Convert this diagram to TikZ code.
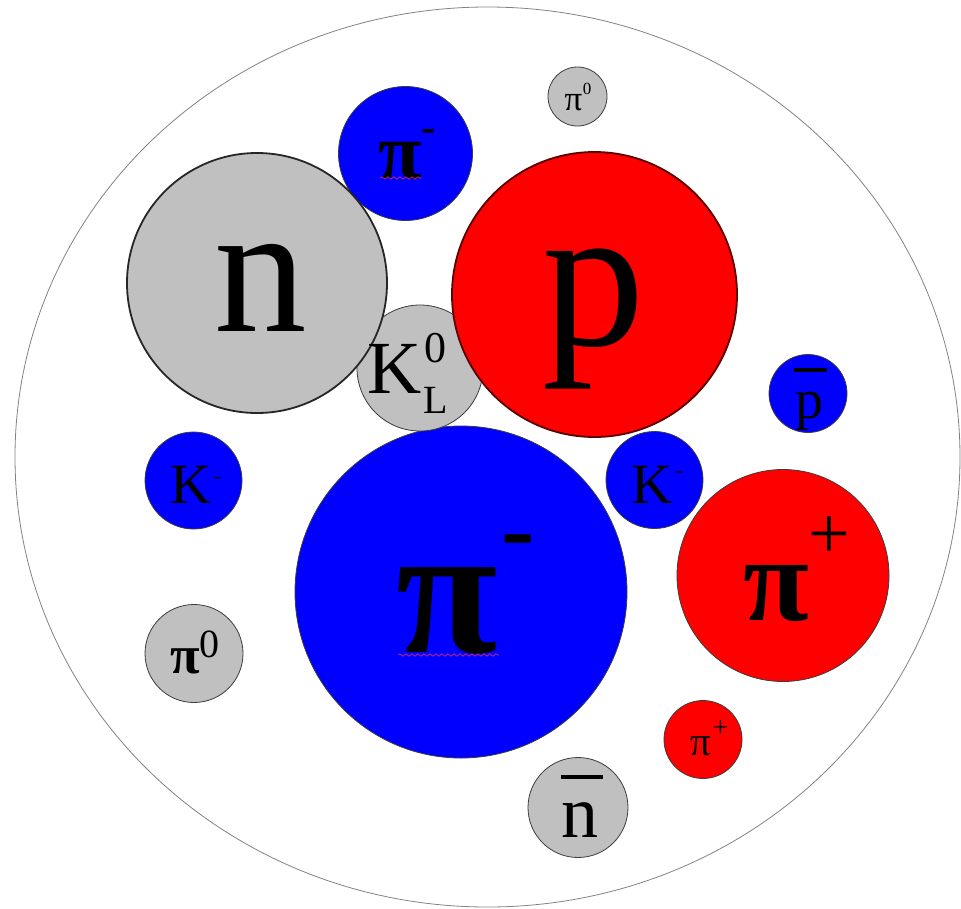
\documentclass[tikz,border=0pt]{standalone}
\usepackage{fontspec}
\setmainfont{Liberation Serif}
\usetikzlibrary{shapes.geometric,decorations.pathmorphing}
\definecolor{ballgray}{RGB}{192,192,192}
\definecolor{ballblue}{RGB}{0,0,255}
\definecolor{ballred}{RGB}{255,0,0}
\definecolor{edgegray}{RGB}{60,60,60}
\definecolor{outergray}{RGB}{130,130,130}
\definecolor{squig}{RGB}{200,40,110}
\newcommand\fsz[1]{\fontsize{#1}{#1}\selectfont}
\newcommand\piglyph{\bfseries π}
\begin{document}
\begin{tikzpicture}[x=1pt,y=-1pt,
 ball/.style={circle, draw=edgegray, line width=0.8pt, inner sep=0pt, minimum size=#1},
 gball/.style={ball=#1, fill=ballgray},
 bball/.style={ball=#1, fill=ballblue},
 rball/.style={ball=#1, fill=ballred},
 lbl/.style={inner sep=0pt, anchor=base, text=black},
 barline/.style={line width=4pt, black},
 squiggle/.style={draw=squig, line width=0.7pt, decorate, decoration={snake, amplitude=1.2pt, segment length=6pt}}]
\useasboundingbox (0,0) rectangle (961,908);
\node[draw=outergray, line width=0.8pt, ellipse, inner sep=0pt, minimum width=945pt, minimum height=900pt] (outer) at (487.5,457) {};
% balls
\node[bball=332pt] (pimbig) at (461,592) {};
\node[gball=126pt] (kl) at (420,368) {};
\node[bball=134pt] (pimtop) at (405.5,153.5) {};
\node[gball=260pt, draw=black!85, line width=1.8pt] (neut) at (257,283) {};
\node[rball=285pt, draw=ballred!35!black, line width=1.8pt] (prot) at (594.5,294.5) {};
\node[gball=59pt] (pi0top) at (577.5,96.5) {};
\node[bball=78pt] (pbar) at (808,393.5) {};
\node[bball=97pt] (kml) at (193.5,480.5) {};
\node[bball=97pt] (kmr) at (654.5,480) {};
\node[rball=212pt] (pipbig) at (783,575.5) {};
\node[gball=98pt] (pi0l) at (194,653.5) {};
\node[rball=78pt] (pipsm) at (703,739.5) {};
\node[gball=100pt] (nbar) at (578,807.5) {};
% labels
\node[lbl, font=\fsz{185}] (tn) at (261,331) {n};
\node[lbl, font=\fsz{205}] (tp) at (594,345) {p};
\node[lbl, font=\fsz{75}] (tk) at (395,393) {K};
\node[lbl, font=\fsz{44}] (tk0) at (435,362) {0};
\node[lbl, font=\fsz{40}] (tkL) at (435.5,413) {L};
\node[lbl, font=\fsz{79}] (tpit) at (400.5,178) {\piglyph};
\node[lbl, font=\fsz{43}\bfseries] (tpitm) at (429,141) {-};
\node[lbl, font=\fsz{35}] (tpi0t) at (573.5,110) {π};
\node[lbl, font=\fsz{17}] (tpi0t0) at (587,94) {0};
\node[lbl, font=\fsz{56}] (tpb) at (809.5,418) {p};
\draw[barline] (794,369.5) -- (827,369.5);
\node[lbl, font=\fsz{57}] (tkl) at (191,503) {K};
\node[lbl, font=\fsz{22}] (tklm) at (217.5,483) {-};
\node[lbl, font=\fsz{57}] (tkr) at (652.5,503) {K};
\node[lbl, font=\fsz{22}] (tkrm) at (679,477) {-};
\node[lbl, font=\fsz{185}] (tpib) at (447,652) {\piglyph};
\node[lbl, font=\fsz{100}\bfseries] (tpibm) at (518,562) {-};
\node[lbl, font=\fsz{120}] (tpipb) at (776,620) {\piglyph};
\node[lbl, font=\fsz{74}] (tpipbp) at (829.5,558) {+};
\node[lbl, font=\fsz{54}] (tpi0l) at (185,673) {\piglyph};
\node[lbl, font=\fsz{40}] (tpi0l0) at (209.5,657) {0};
\node[lbl, font=\fsz{41}] (tpips) at (701,755) {π};
\node[lbl, font=\fsz{28}] (tpipsp) at (720.5,736.5) {+};
\node[lbl, font=\fsz{74}] (tnb) at (580,837) {n};
\draw[barline, line width=4.5pt] (561,777) -- (603,777);
% spell-check squiggles
\draw[squiggle] (398,655) -- (499,655);
\draw[squiggle] (380,178) -- (422,178);
\end{tikzpicture}
\end{document}
